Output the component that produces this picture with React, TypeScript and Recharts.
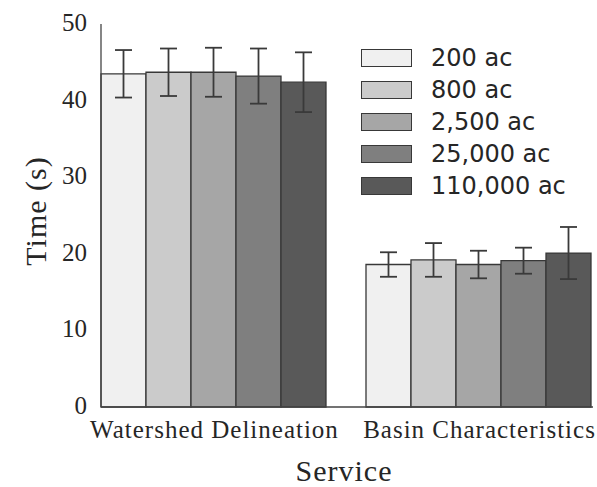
import React from 'react';
import { BarChart, Bar, XAxis, YAxis, ErrorBar, Legend, Label } from 'recharts';

const categories = ['Watershed Delineation', 'Basin Characteristics'];
const sizeLabels = ['200 ac', '800 ac', '2,500 ac', '25,000 ac', '110,000 ac'];
const colors = ['#f0f0f0', '#cbcbcb', '#a6a6a6', '#7f7f7f', '#595959'];

const mean200 = [43.5, 18.6];
const err200 = [3.1, 1.6];
const mean800 = [43.7, 19.2];
const err800 = [3.1, 2.2];
const mean2500 = [43.7, 18.6];
const err2500 = [3.2, 1.8];
const mean25000 = [43.2, 19.1];
const err25000 = [3.6, 1.7];
const mean110000 = [42.4, 20.1];
const err110000 = [3.9, 3.4];

const yTicks = [0, 10, 20, 30, 40, 50];

const means = [mean200, mean800, mean2500, mean25000, mean110000];
const errs = [err200, err800, err2500, err25000, err110000];

const rows = categories.map((c, i) => {
  const r: any = { service: c };
  means.forEach((m, k) => {
    r['m' + k] = m[i];
    r['e' + k] = errs[k][i];
  });
  return r;
});

const SERIF = '"Liberation Serif", "Times New Roman", serif';
const SANS = '"DejaVu Sans", sans-serif';
const TEXT = '#262626';
const EDGE = '#383838';

const XTick = (props: any) => {
  const { x, payload } = props;
  return (
    <text x={x} y={438} textAnchor="middle" fontFamily={SERIF} fontSize={25} letterSpacing={1} fill={TEXT}>
      {payload.value}
    </text>
  );
};

const YTick = (props: any) => {
  const { y, payload } = props;
  return (
    <text x={87} y={y + 7} textAnchor="end" fontFamily={SERIF} fontSize={25} fill={TEXT}>
      {payload.value}
    </text>
  );
};

const LegendContent = () => (
  <div style={{ display: 'flex', flexDirection: 'column' }}>
    {sizeLabels.map((s, i) => (
      <div key={s} style={{ display: 'flex', alignItems: 'center', height: 32.1 }}>
        <div
          style={{
            width: 51,
            height: 18,
            boxSizing: 'border-box',
            border: '1.5px solid ' + EDGE,
            background: colors[i],
          }}
        />
        <span style={{ marginLeft: 19, fontFamily: SANS, fontSize: 24, color: TEXT, lineHeight: '32px', whiteSpace: 'nowrap' }}>
          {s}
        </span>
      </div>
    ))}
  </div>
);

export default function App() {
  return (
    <div style={{ position: 'absolute', left: 0, top: 0, background: '#fff' }}>
      <BarChart
        width={597}
        height={487}
        data={rows}
        margin={{ top: 24, right: 4, left: 0, bottom: 0 }}
        barCategoryGap={19}
        barGap={0}
      >
        <XAxis
          dataKey="service"
          height={80}
          padding={{ left: -19, right: -19 }}
          tick={<XTick />}
          tickLine={false}
          axisLine={{ stroke: '#444', strokeWidth: 1.3 }}
          interval={0}
        >
          <Label
            content={() => (
              <text x={344} y={481} textAnchor="middle" fontFamily={SERIF} fontSize={30} letterSpacing={1} fill={TEXT}>
                Service
              </text>
            )}
          />
        </XAxis>
        <XAxis
          xAxisId="top"
          orientation="top"
          dataKey="service"
          height={0}
          tick={false}
          tickLine={false}
          axisLine={{ stroke: '#444', strokeWidth: 1.3 }}
        />
        <YAxis
          width={101}
          domain={[0, 50]}
          ticks={yTicks}
          tick={<YTick />}
          tickLine={false}
          axisLine={{ stroke: '#444', strokeWidth: 1.3 }}
        >
          <Label
            content={() => (
              <text
                x={46}
                y={211}
                transform="rotate(-90, 46, 211)"
                textAnchor="middle"
                fontFamily={SERIF}
                fontSize={30}
                letterSpacing={1}
                fill={TEXT}
              >
                Time (s)
              </text>
            )}
          />
        </YAxis>
        <YAxis
          yAxisId="right"
          orientation="right"
          width={0}
          domain={[0, 50]}
          tick={false}
          tickLine={false}
          axisLine={{ stroke: '#444', strokeWidth: 1.3 }}
        />
        <Legend
          layout="horizontal"
          verticalAlign="middle"
          align="center"
          content={<LegendContent />}
          wrapperStyle={{ position: 'absolute', left: 361, top: 41.5, width: 230, height: 170 }}
        />
        {means.map((_, k) => (
          <Bar
            key={k}
            dataKey={'m' + k}
            name={sizeLabels[k]}
            fill={colors[k]}
            stroke={EDGE}
            strokeWidth={1.3}
            isAnimationActive={false}
          >
            <ErrorBar
              dataKey={'e' + k}
              width={8.5}
              stroke="#3a3a3a"
              strokeWidth={1.8}
              direction="y"
              isAnimationActive={false}
            />
          </Bar>
        ))}
      </BarChart>
    </div>
  );
}
